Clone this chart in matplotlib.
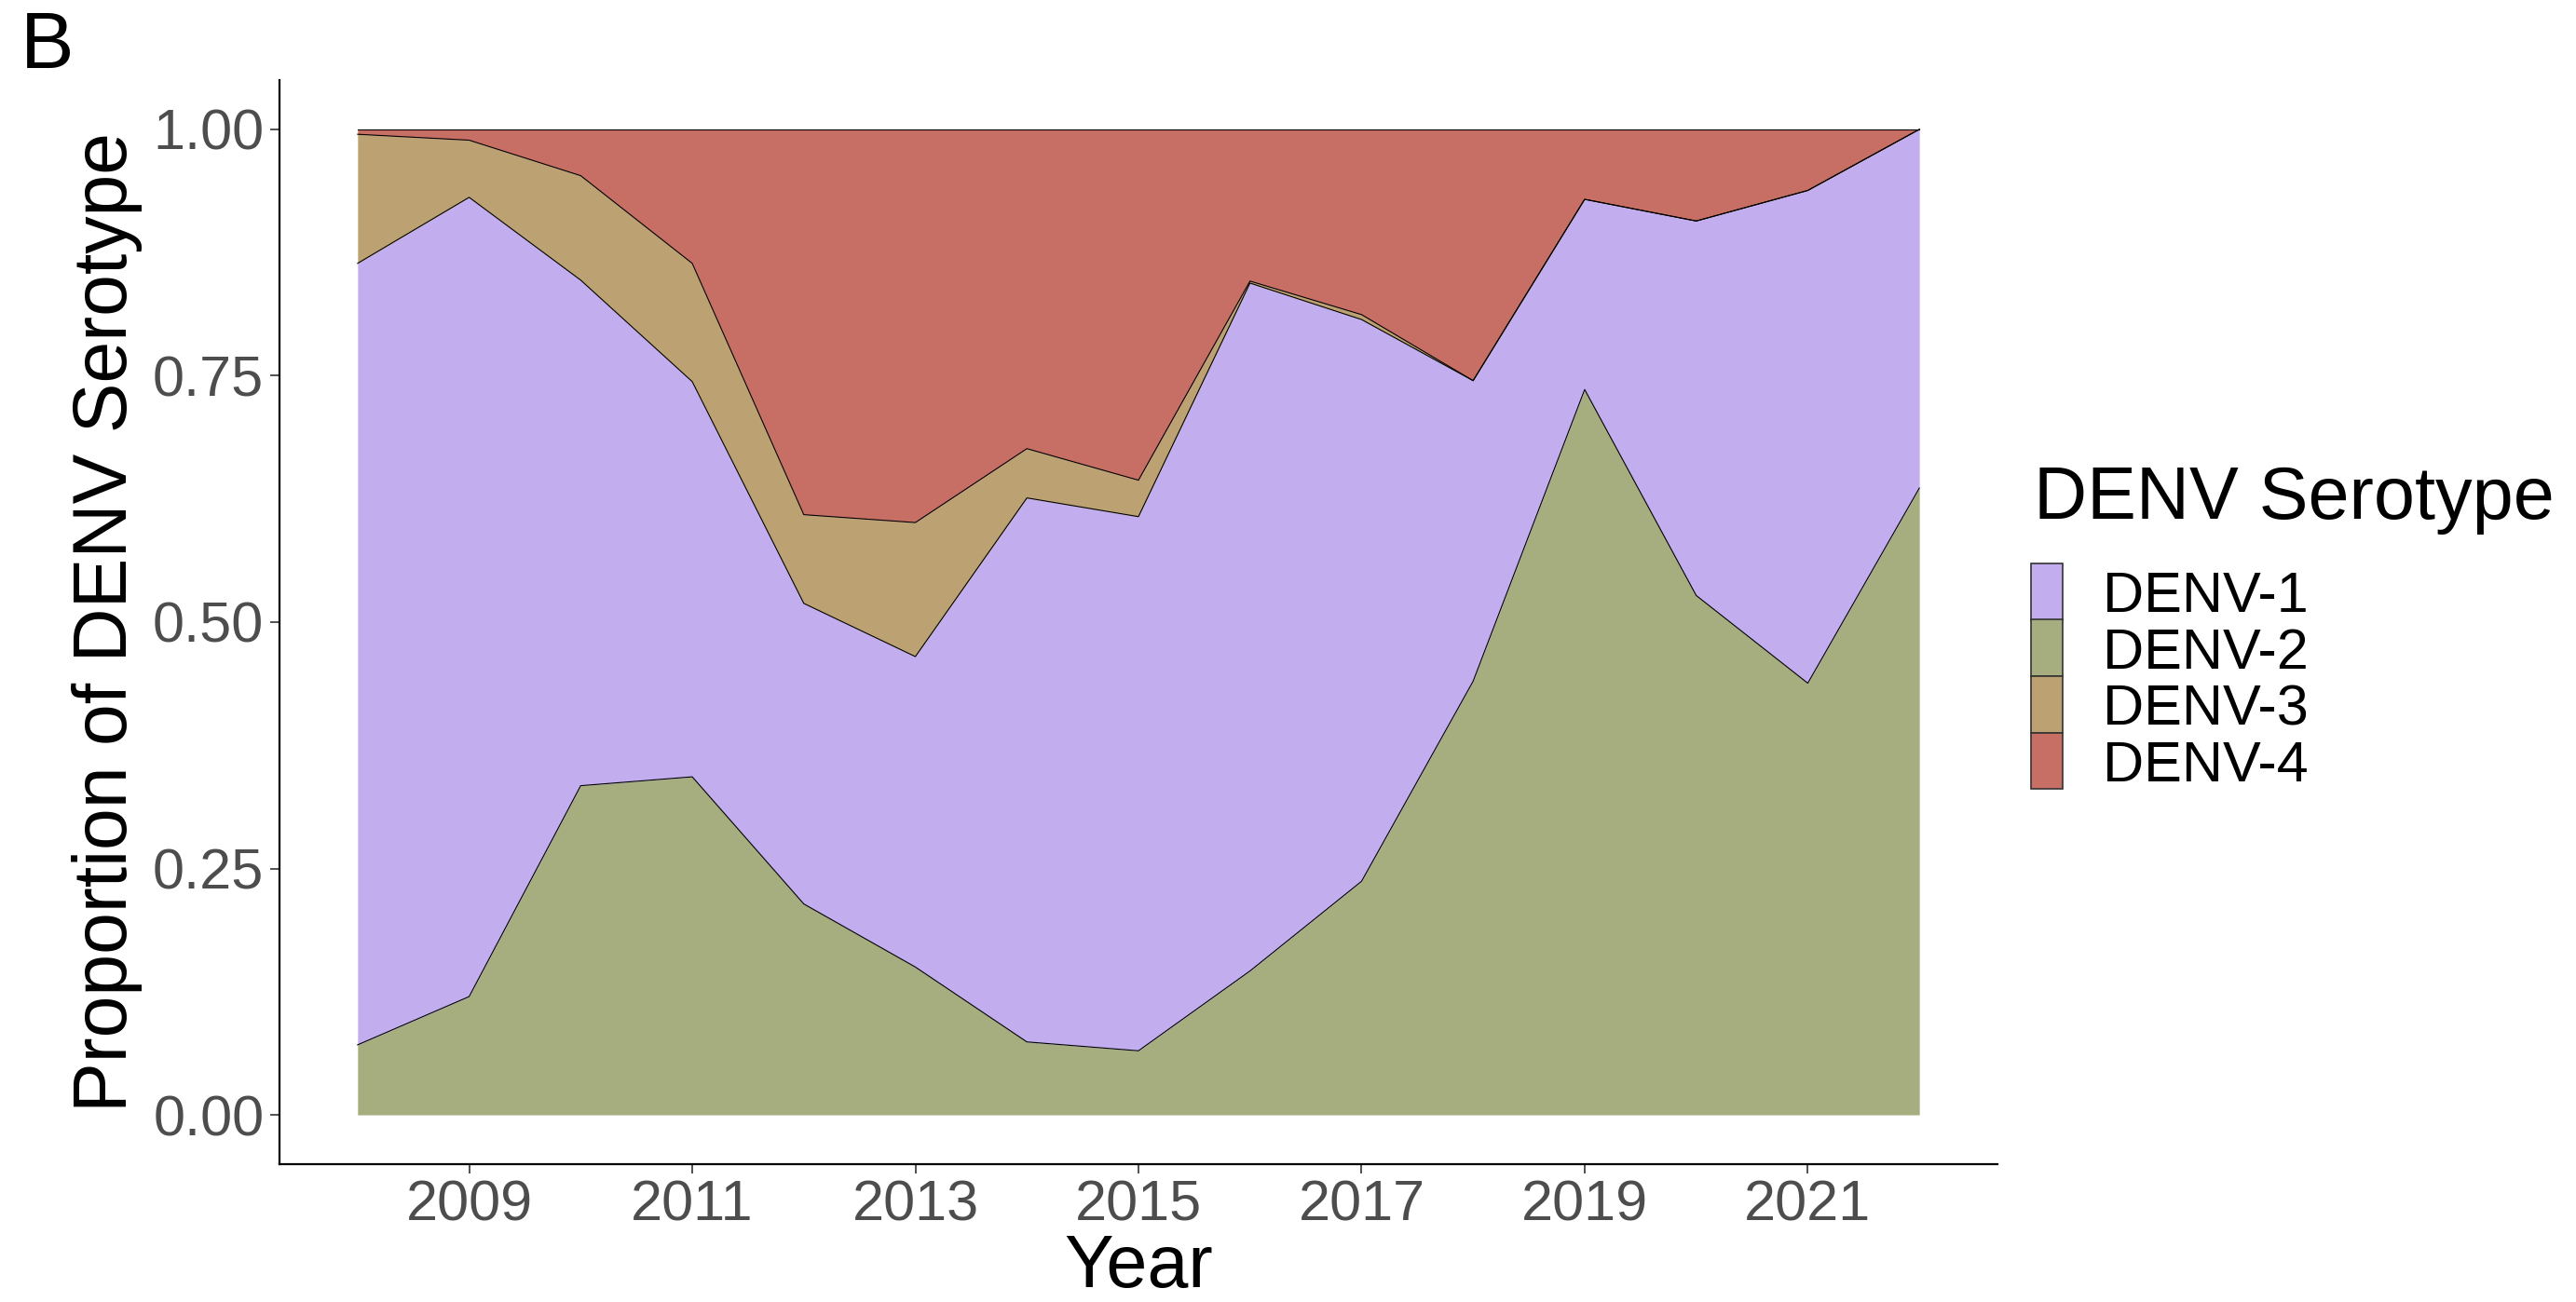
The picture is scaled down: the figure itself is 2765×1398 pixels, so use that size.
import matplotlib
matplotlib.use("Agg")
import matplotlib.pyplot as plt
from matplotlib.patches import Rectangle
import numpy as np

plt.rcParams['font.family'] = ['Liberation Sans', 'DejaVu Sans']

# proportions of each serotype per year
years = [2008, 2009, 2010, 2011, 2012, 2013, 2014, 2015, 2016, 2017, 2018, 2019, 2020, 2021, 2022]
denv2 = [0.071, 0.120, 0.334, 0.343, 0.214, 0.150, 0.074, 0.065, 0.146, 0.237, 0.440, 0.736, 0.527, 0.438, 0.636]
denv1 = [0.793, 0.811, 0.513, 0.401, 0.305, 0.315, 0.552, 0.542, 0.698, 0.570, 0.305, 0.193, 0.380, 0.500, 0.364]
denv3 = [0.131, 0.058, 0.106, 0.120, 0.090, 0.136, 0.050, 0.037, 0.002, 0.005, 0.0, 0.0, 0.0, 0.0, 0.0]
denv4 = [0.005, 0.011, 0.047, 0.136, 0.391, 0.399, 0.324, 0.356, 0.154, 0.188, 0.255, 0.071, 0.093, 0.062, 0.0]

# stacking order bottom -> top
stack_names = ['DENV-2', 'DENV-1', 'DENV-3', 'DENV-4']
stack_vals = [denv2, denv1, denv3, denv4]
colors = {'DENV-1': '#C2AEEE', 'DENV-2': '#A6AE80', 'DENV-3': '#BCA272', 'DENV-4': '#C76F64'}
legend_order = ['DENV-1', 'DENV-2', 'DENV-3', 'DENV-4']

fig = plt.figure(figsize=(27.65, 13.98), dpi=100)
ax = fig.add_axes([0.1085, 0.1059, 0.6669, 0.8326])

x = np.array(years)
base = np.zeros(len(years))
for name, vals in zip(stack_names, stack_vals):
    top = base + np.array(vals)
    ax.fill_between(x, base, top, color=colors[name], linewidth=0)
    ax.plot(x, top, color='black', linewidth=0.8)
    base = top

ax.set_xlim(2007.3, 2022.7)
ax.set_ylim(-0.05, 1.05)
ax.set_xticks(range(2009, 2022, 2))
ax.set_yticks([0, 0.25, 0.5, 0.75, 1.0])
ax.set_yticklabels(['0.00', '0.25', '0.50', '0.75', '1.00'])

for s in ['top', 'right']:
    ax.spines[s].set_visible(False)
for s in ['left', 'bottom']:
    ax.spines[s].set_linewidth(1.6)
    ax.spines[s].set_color('black')
ax.tick_params(axis='both', length=7, width=1.2, color='#333333',
               labelsize=44, labelcolor='#4D4D4D', pad=5)

ax.set_xlabel('Year', fontsize=57, labelpad=0)
ax.set_ylabel('Proportion of DENV Serotype', fontsize=58, labelpad=8)

fig.text(0.008, 0.992, 'B', fontsize=62, va='top', ha='left')

# legend
W, H = 2765, 1398
fig.text(2183 / W, 1 - 557 / H, 'DENV Serotype', fontsize=57, va='baseline', ha='left')
key_top = 605
key_h = 60.5
for i, name in enumerate(legend_order):
    y0 = key_top + i * key_h
    fig.add_artist(Rectangle((2180 / W, 1 - (y0 + key_h) / H), 34 / W, key_h / H,
                             transform=fig.transFigure, facecolor=colors[name],
                             edgecolor='#333333', linewidth=1.2))
    fig.text(2257 / W, 1 - (y0 + key_h / 2) / H, name, fontsize=44, va='center_baseline', ha='left')

fig.savefig('out.png', dpi=100)
